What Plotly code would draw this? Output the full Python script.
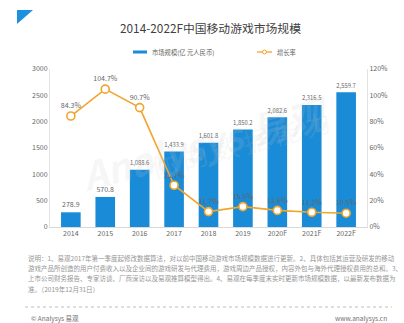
import plotly.graph_objects as go

years = ["2014", "2015", "2016", "2017", "2018", "2019", "2020F", "2021F", "2022F"]
market_size = [278.9, 570.8, 1088.6, 1433.9, 1601.8, 1850.2, 2082.6, 2316.5, 2559.7]
growth_rate = [84.3, 104.7, 90.7, 31.7, 11.7, 15.5, 12.6, 11.2, 10.5]
left_ticks = [0, 500, 1000, 1500, 2000, 2500, 3000]
right_ticks = [0, 20, 40, 60, 80, 100, 120]
bar_name = "市场规模(亿 元人民币)"
line_name = "增长率"

W, H = 404, 323
ML, MR, MT, MB = 50, 37, 69, 96
FONT = "Noto Sans CJK SC, Noto Sans, sans-serif"
BLUE = "#1a8bd6"
ORANGE = "#f0a52c"
GREY = "#666666"


def py(ypx):
    """Pixel row -> paper y coordinate."""
    return (H - MB - ypx) / (H - MT - MB)


def px(xpx):
    """Pixel column -> paper x coordinate."""
    return (xpx - ML) / (W - ML - MR)


fig = go.Figure()
fig.add_trace(go.Bar(
    x=years, y=market_size, name=bar_name,
    marker=dict(color=BLUE, line=dict(width=0)), width=0.57,
    text=[f"{v:,.1f}" for v in market_size], textposition="outside",
    textfont=dict(size=7, color=GREY, family=FONT), cliponaxis=False,
))
fig.add_trace(go.Scatter(
    x=years, y=growth_rate, name=line_name, yaxis="y2", mode="lines+markers+text",
    line=dict(color=ORANGE, width=1.6),
    marker=dict(size=8, color="white", line=dict(color=ORANGE, width=1.6)),
    text=[f"{v:.1f}%" for v in growth_rate], textposition="top center",
    textfont=dict(size=7, color=GREY, family=FONT), cliponaxis=False,
))

fig.update_layout(
    width=W, height=H, margin=dict(l=ML, r=MR, t=MT, b=MB),
    paper_bgcolor="white", plot_bgcolor="white",
    font=dict(family=FONT, size=7, color=GREY),
    showlegend=False,
    bargap=0.43,
    xaxis=dict(showgrid=False, showline=True, linecolor="#d9d9d9", linewidth=1,
               ticks="", tickfont=dict(size=7, color=GREY)),
    yaxis=dict(range=[0, 3000], tickvals=left_ticks, showgrid=False, showline=True,
               linecolor="#e3e3e3", linewidth=1, zeroline=False, ticks="",
               tickfont=dict(size=7, color=GREY)),
    yaxis2=dict(range=[0, 120], tickvals=right_ticks, ticktext=[f"{t}%" for t in right_ticks],
                overlaying="y", side="right", showgrid=False, showline=True,
                linecolor="#e3e3e3", linewidth=1, zeroline=False, ticks="",
                tickfont=dict(size=7, color=GREY)),
)

# faint watermark
fig.add_annotation(text="<i><b>Analysys 易观</b></i>", xref="paper", yref="paper", x=px(205), y=py(142),
                   showarrow=False, textangle=-15,
                   font=dict(size=38, color="rgba(200,200,200,0.17)", family=FONT))
fig.add_annotation(text="你 的 数 据 能 力", xref="paper", yref="paper", x=px(240), y=py(188),
                   showarrow=False, textangle=-15,
                   font=dict(size=26, color="rgba(200,200,200,0.15)", family=FONT))

# title
fig.add_annotation(text="2014-2022F中国移动游戏市场规模", xref="paper", yref="paper",
                   x=px(211), y=py(28), xanchor="center", yanchor="middle", showarrow=False,
                   font=dict(size=11.8, color="#404040", family=FONT))

# legend
fig.add_shape(type="rect", xref="paper", yref="paper", x0=px(133), x1=px(147),
              y0=py(50.5), y1=py(53.5), fillcolor=BLUE, line=dict(width=0))
fig.add_annotation(text=bar_name, xref="paper", yref="paper", x=px(150), y=py(52),
                   xanchor="left", yanchor="middle", showarrow=False,
                   font=dict(size=6.3, color=GREY, family=FONT))
fig.add_shape(type="line", xref="paper", yref="paper", x0=px(257), x1=px(272),
              y0=py(52), y1=py(52), line=dict(color=ORANGE, width=1.3))
fig.add_shape(type="circle", xref="paper", yref="paper", x0=px(262.5), x1=px(266.5),
              y0=py(50), y1=py(54), fillcolor="white", line=dict(color=ORANGE, width=1))
fig.add_annotation(text=line_name, xref="paper", yref="paper", x=px(275), y=py(52),
                   xanchor="left", yanchor="middle", showarrow=False,
                   font=dict(size=6.3, color=GREY, family=FONT))

# corner logo triangle
fig.add_shape(type="path", xref="paper", yref="paper",
              path=f"M {px(17)} {py(10)} L {px(33)} {py(10)} L {px(17)} {py(24)} Z",
              fillcolor="#1e90e0", line=dict(width=0))

notes = [
    "说明：1、易观2017年第一季度起修改数据算法，对以前中国移动游戏市场规模数据进行更新。2、具体包括其运营及研发的移动",
    "游戏产品所创造的用户付费收入以及企业间的游戏研发与代理费用，游戏周边产品授权，内容外包与海外代理授权费用的总和。3、",
    "上市公司财务报告、专家访谈、厂商深访以及易观推算模型得出。4、易观在每季度末实时更新市场规模数据，以最新发布数据为",
    "准。（2019年12月31日）",
]
for i, line in enumerate(notes):
    fig.add_annotation(text=line, xref="paper", yref="paper", x=px(26), y=py(258 + i * 10.2),
                       xanchor="left", yanchor="middle", showarrow=False,
                       font=dict(size=6.5, color="#959595", family=FONT))

fig.add_shape(type="line", xref="paper", yref="paper", x0=px(25), x1=px(392),
              y0=py(307), y1=py(307), line=dict(color="#bdbdbd", width=1, dash="dot"))
fig.add_annotation(text="© Analysys 易观", xref="paper", yref="paper", x=px(29), y=py(318),
                   xanchor="left", yanchor="middle", showarrow=False,
                   font=dict(size=6.5, color="#707070", family=FONT))
fig.add_annotation(text="www.analysys.cn", xref="paper", yref="paper", x=px(389), y=py(318),
                   xanchor="right", yanchor="middle", showarrow=False,
                   font=dict(size=6.5, color="#707070", family=FONT))

fig.write_html("out.html")
